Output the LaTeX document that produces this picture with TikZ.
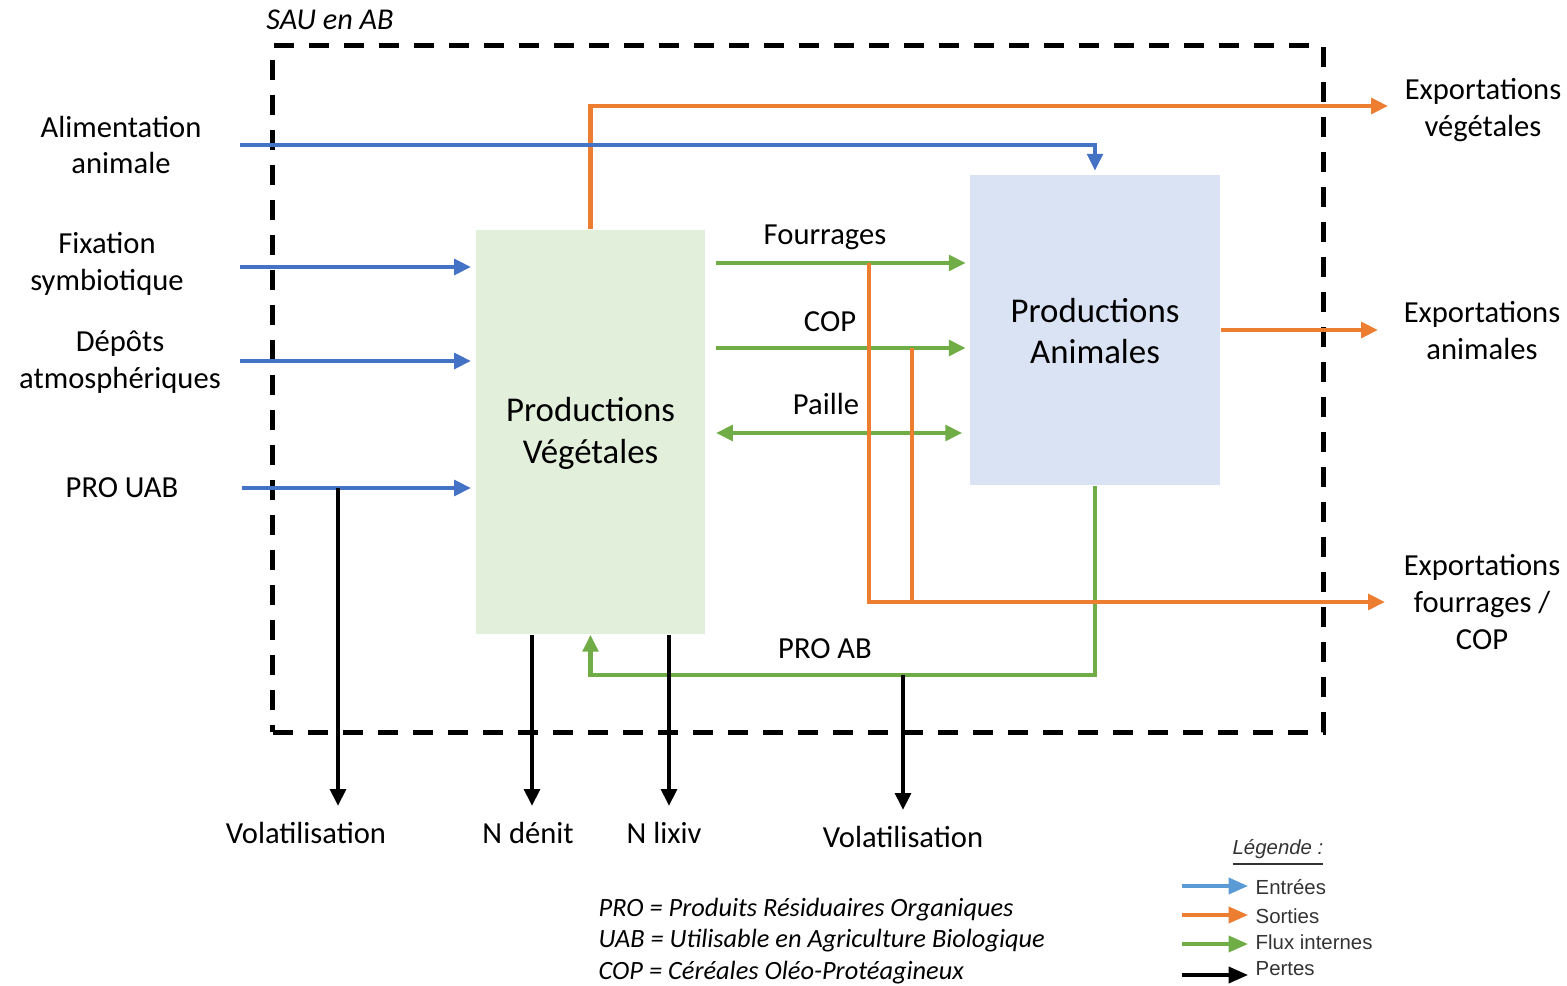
\documentclass[tikz,border=0pt]{standalone}
\usepackage{fontspec}
\setmainfont{Carlito}
\newfontfamily\legendfont{Liberation Sans}
\usetikzlibrary{arrows.meta}
\definecolor{inblue}{HTML}{4472C4}
\definecolor{outorange}{HTML}{ED7D31}
\definecolor{intgreen}{HTML}{70AD47}
\definecolor{vegfill}{HTML}{E2EFDA}
\definecolor{anifill}{HTML}{DAE3F3}
\definecolor{legblue}{HTML}{5B9BD5}
\definecolor{legtext}{HTML}{333333}

\begin{document}
\begin{tikzpicture}[x=0.01cm,y=-0.01cm,
  lbl/.style={font=\fontsize{8.7}{10.5}\selectfont, align=center, inner sep=0pt},
  boxlbl/.style={font=\fontsize{9.9}{11.9}\selectfont, align=center},
  flow/.style={line width=1.15pt, -{Triangle[length=4.8pt,width=4.4pt]}},
  entree/.style={flow, inblue},
  sortie/.style={flow, outorange},
  interne/.style={flow, intgreen},
  perte/.style={flow, black},
  legarrow/.style={line width=0.9pt, -{Triangle[length=5.5pt,width=4.6pt]}},
  legtxt/.style={font=\legendfont\fontsize{5.8}{7}\selectfont, text=legtext, anchor=west, inner sep=0pt}
]
\useasboundingbox (0,0) rectangle (1567,986);

% farm boundary
\node[draw, line width=1.4pt, dash pattern=on 0.2cm off 0.15cm,
      minimum width=10.5cm, minimum height=6.86cm, inner sep=0pt] (sau) at (798,389) {};
\node[lbl, font=\fontsize{8.6}{10}\selectfont\itshape] (sautitle) at (330,20) {SAU en AB};

% production compartments
\node[fill=vegfill, minimum width=2.29cm, minimum height=4.04cm, inner sep=0pt] (pv) at (590.5,432) {};
\node[boxlbl] (pvtxt) at (590.5,433) {Productions\\Végétales};
\node[fill=anifill, minimum width=2.5cm, minimum height=3.1cm, inner sep=0pt] (pa) at (1095,330) {};
\node[boxlbl] (patxt) at (1095,331) {Productions\\Animales};

% input labels
\node[lbl] (alim) at (121,145) {Alimentation\\animale};
\node[lbl] (fix) at (107,264) {Fixation\\symbiotique};
\node[lbl] (dep) at (120,362) {Dépôts\\atmosphériques};
\node[lbl] (prouab) at (122,488) {PRO UAB};

% output labels
\node[lbl] (expveg) at (1483,110) {Exportations\\végétales};
\node[lbl] (expani) at (1482,331) {Exportations\\animales};
\node[lbl] (expfou) at (1482,602) {Exportations\\fourrages /\\COP};

% loss labels
\node[lbl] (volA) at (306,833) {Volatilisation};
\node[lbl] (denit) at (528,833) {N dénit};
\node[lbl] (lixiv) at (664,833) {N lixiv};
\node[lbl] (volB) at (903,837) {Volatilisation};

% internal flow labels
\node[lbl] (lfour) at (825,237) {Fourrages};
\node[lbl] (lcop) at (830,322) {COP};
\node[lbl] (lpaille) at (826,404) {Paille};
\node[lbl] (lproab) at (825,649) {PRO AB};

% connector end points
\coordinate (alimS) at (240,145);
\coordinate (fixS) at (240,267);
\coordinate (depS) at (240,361);
\coordinate (proS) at (242,488);
\coordinate (fourS) at (716,263);
\coordinate (copS) at (716,348);
\coordinate (pailS) at (716,433);
\coordinate (vegE) at (1388,106);
\coordinate (aniE) at (1378,330);
\coordinate (fouE) at (1385,602);
\coordinate (tapF) at (869,263);
\coordinate (tapC) at (912,348);
\coordinate (volAS) at (338,488);
\coordinate (volAE) at (338,806);
\coordinate (denE) at (532,806);
\coordinate (lixE) at (669,806);
\coordinate (volBS) at (903,675);
\coordinate (volBE) at (903,810);
\coordinate (proabC) at (1095,675);

% internal flows
\draw[interne, shorten >=1pt] (fourS) -- (fourS -| pa.west);
\draw[interne, shorten >=1pt] (copS) -- (copS -| pa.west);
\draw[interne, {Triangle[length=4.8pt,width=4.4pt]}-{Triangle[length=4.8pt,width=4.4pt]}, shorten >=2pt] (pailS) -- (pailS -| pa.west);
\draw[interne] (pa.south) -- (proabC) -| (pv.south);

% outputs
\draw[sortie] (pv.north) |- (vegE);
\draw[sortie] (pa.east) -- (aniE);
\draw[sortie] (tapF) |- (fouE);
\draw[outorange, line width=1.15pt] (tapC) -- (tapC |- fouE);

% inputs
\draw[entree, shorten >=1pt] (alimS) -| (pa.north);
\draw[entree, shorten >=1.2pt] (fixS) -- (fixS -| pv.west);
\draw[entree, shorten >=1.2pt] (depS) -- (depS -| pv.west);
\draw[entree, shorten >=1.2pt] (proS) -- (proS -| pv.west);

% losses
\draw[perte] (volAS) -- (volAE);
\draw[perte] (denE |- pv.south) -- (denE);
\draw[perte] (lixE |- pv.south) -- (lixE);
\draw[perte] (volBS) -- (volBE);

% abbreviations
\node[font=\fontsize{7.5}{8.9}\selectfont\itshape, align=left, anchor=west, inner sep=0pt] (abbr) at (598,941)
  {PRO = Produits Résiduaires Organiques\\UAB = Utilisable en Agriculture Biologique\\COP = Céréales Oléo-Protéagineux};

% legend
\node[font=\legendfont\fontsize{5.8}{7}\selectfont\itshape, text=legtext, inner sep=0pt] (legtitle) at (1278,853) {\underline{Légende :}};
\node[legtxt] (lgin) at (1255,887) {Entrées};
\node[legtxt] (lgout) at (1255,916) {Sorties};
\node[legtxt] (lgint) at (1255,942) {Flux internes};
\node[legtxt] (lgloss) at (1255,969) {Pertes};
\coordinate (lgA) at (1182,886);
\coordinate (lgB) at (1182,915);
\coordinate (lgC) at (1182,944);
\coordinate (lgD) at (1182,975);
\draw[legarrow, legblue, shorten >=2pt] (lgA) -- (lgA -| lgin.west);
\draw[legarrow, outorange, shorten >=2pt] (lgB) -- (lgB -| lgout.west);
\draw[legarrow, intgreen, shorten >=2pt] (lgC) -- (lgC -| lgint.west);
\draw[legarrow, black, shorten >=2pt] (lgD) -- (lgD -| lgloss.west);
\end{tikzpicture}
\end{document}
